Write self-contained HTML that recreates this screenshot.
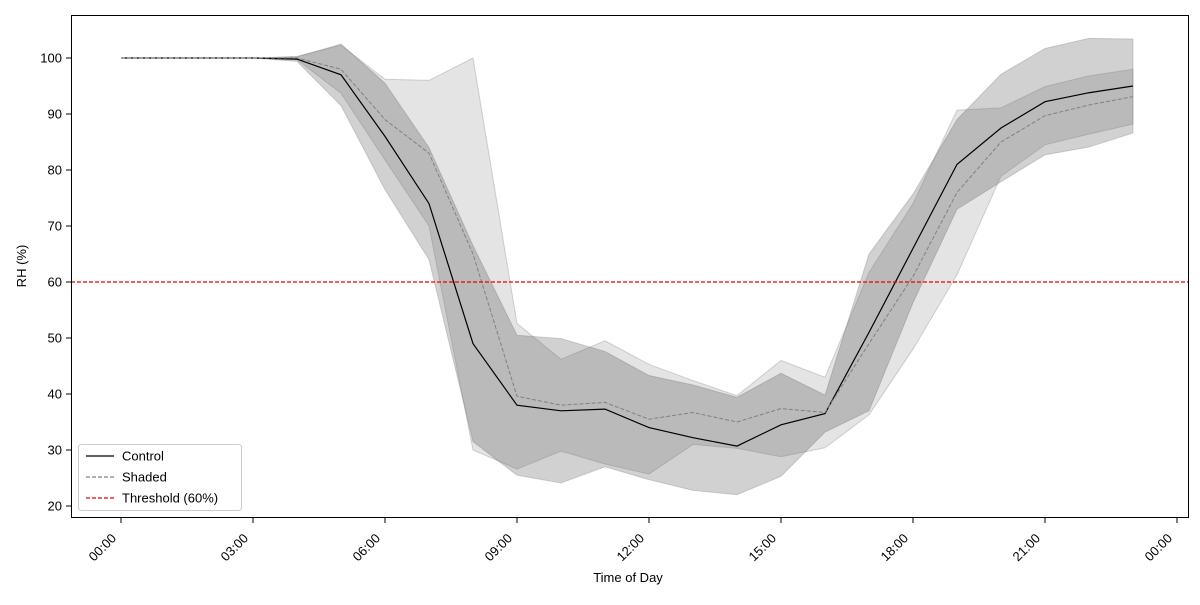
<!DOCTYPE html>
<html><head><meta charset="utf-8"><style>body{margin:0;background:#fff}svg{font-family:"Liberation Sans",sans-serif}</style></head>
<body>
<svg id="c" width="1200" height="600" xmlns="http://www.w3.org/2000/svg"></svg>
<script>
const hours=[0,1,2,3,4,5,6,7,8,9,10,11,12,13,14,15,16,17,18,19,20,21,22,23];
const control=[100,100,100,100,99.8,97,86,74,49,38,37,37.3,34,32.2,30.7,34.5,36.5,51,66,81,87.5,92.2,93.8,95];
const shaded=[100,100,100,100,100,98,89,83,65,39.6,38,38.5,35.5,36.7,35,37.4,36.7,49,61,76,85,89.7,91.6,93.1];
const controlSpread=[0,0,0,0,0.4,5.5,9.5,10,17.5,12.5,12.9,10.3,9.3,9.4,8.7,9.2,3.3,14,9.7,8,9.6,9.5,9.7,8.4];
const shadedSpread=[0,0,0,0,0.3,4.3,7.2,13,35,13,8.2,11,9.8,5.7,4.7,8.6,6.3,12.7,13,14.7,6.1,5.2,5.2,4.9];
const yTicks=[20,30,40,50,60,70,80,90,100];
const xTickHours=[0,3,6,9,12,15,18,21,24];
const xTickLabels=["00:00","03:00","06:00","09:00","12:00","15:00","18:00","21:00","00:00"];
const threshold=60;
const X=h=>121+h*44, Y=v=>506-(v-20)*5.6;
const svg=document.getElementById('c');const NS="http://www.w3.org/2000/svg";
function mk(t,a,p){const e=document.createElementNS(NS,t);for(const k in a)e.setAttribute(k,a[k]);(p||svg).appendChild(e);return e;}
function band(mean,sp,op,name){const up=hours.map((h,i)=>X(h)+','+Y(mean[i]+sp[i]));
const lo=hours.map((h,i)=>X(h)+','+Y(mean[i]-sp[i])).reverse();
const e=mk('polygon',{points:up.concat(lo).join(' '),fill:'#000','fill-opacity':op,stroke:'#777','stroke-opacity':0.3});
}
band(control,controlSpread,0.18,'control-band');
band(shaded,shadedSpread,0.106,'shaded-band');
function line(d,attrs,name){const e=mk('polyline',Object.assign({points:hours.map((h,i)=>X(h)+','+Y(d[i])).join(' '),fill:'none'},attrs));
}
line(control,{stroke:'#000','stroke-width':1.2},'control-line');
line(shaded,{stroke:'#808080','stroke-width':1,'stroke-dasharray':'4,2'},'shaded-line');
let th=mk('line',{x1:71,x2:1189,y1:Y(threshold),y2:Y(threshold),stroke:'#e00','stroke-width':1.2,'stroke-dasharray':'4,2'});

let fr=mk('rect',{x:71.5,y:15.5,width:1117,height:502,fill:'none',stroke:'#000'});

yTicks.forEach(v=>{mk('line',{x1:66,x2:71,y1:Y(v),y2:Y(v),stroke:'#000'});
const t=mk('text',{x:62,y:Y(v)+4.5,'text-anchor':'end','font-size':13});t.textContent=v;
});
xTickHours.forEach((h,i)=>{mk('line',{x1:X(h),x2:X(h),y1:518,y2:523,stroke:'#000'});
const ax=X(h)-4, ay=539;
const t=mk('text',{x:ax,y:ay,'text-anchor':'end','font-size':13,transform:`rotate(-45 ${ax} ${ay})`});t.textContent=xTickLabels[i];
});
let xt=mk('text',{x:628,y:582,'text-anchor':'middle','font-size':13});xt.textContent='Time of Day';

let yt=mk('text',{x:26,y:266,'text-anchor':'middle','font-size':13,transform:'rotate(-90 26 266)'});yt.textContent='RH (%)';

const lg=mk('g',{});
mk('rect',{x:78.5,y:444.5,width:163,height:66,rx:3,fill:'#fff','fill-opacity':0.8,stroke:'#ccc'},lg);
const ent=[['Control','#000',''],['Shaded','#808080','4,2'],['Threshold (60%)','#e00','4,2']];
ent.forEach((e,i)=>{const y=456+i*21;const g=mk('g',{},lg);
mk('line',{x1:86,x2:114,y1:y,y2:y,stroke:e[1],'stroke-width':1.2,'stroke-dasharray':e[2]},g);
const t=mk('text',{x:122,y:y+4.5,'font-size':13},g);t.textContent=e[0];});
</script>
</body></html>
